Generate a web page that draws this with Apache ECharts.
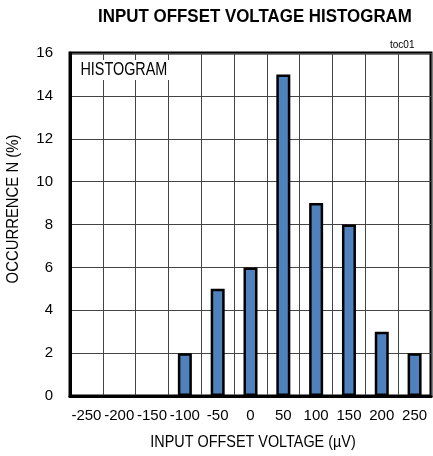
<!DOCTYPE html>
<html>
<head>
<meta charset="utf-8">
<script src="https://cdn.jsdelivr.net/npm/echarts@6/dist/echarts.min.js"></script>
<style>
html,body{margin:0;padding:0;background:#fff;}
#c{width:433px;height:456px;}
</style>
</head>
<body>
<div id="c"></div>
<script>
var categories = ['-250','-200','-150','-100','-50','0','50','100','150','200','250'];
var occurrence = [0,0,0,2,5,6,15,9,8,3,2];
var yTicks = {min:0, max:16, interval:2};
var titleText = 'INPUT OFFSET VOLTAGE HISTOGRAM';
var xName = 'INPUT OFFSET VOLTAGE (µV)';
var yName = 'OCCURRENCE N (%)';

var FONT = "'Liberation Sans',Arial,sans-serif";
var barData = occurrence.map(function(v){
  return v > 0 ? {value:v} : {value:v, itemStyle:{borderWidth:0}};
});
var chart = echarts.init(document.getElementById('c'), null, {renderer:'canvas'});
chart.setOption({
  animation:false,
  backgroundColor:'#fff',
  graphic:[
    {type:'text', x:255, y:17, scaleX:0.89, style:{text:titleText, fontFamily:FONT, fontWeight:'bold', fontSize:19, fill:'#000', align:'center', verticalAlign:'middle', textAlign:'center', textVerticalAlign:'middle'}},
    {type:'text', x:390, y:40, style:{text:'toc01', fontFamily:FONT, fontSize:10, fill:'#000'}},
    {type:'text', x:78, y:70, z:100, scaleX:0.8, style:{text:'HISTOGRAM', fontFamily:FONT, fontSize:18, fill:'#000', backgroundColor:'#fff', padding:[1,3,1,3], verticalAlign:'middle', textVerticalAlign:'middle'}},
    {type:'text', x:253, y:443, scaleX:0.9, style:{text:xName, fontFamily:FONT, fontSize:16, fill:'#000', align:'center', verticalAlign:'middle', textAlign:'center', textVerticalAlign:'middle'}},
    {type:'text', x:14, y:209, rotation:Math.PI/2, scaleX:0.93, style:{text:yName, fontFamily:FONT, fontSize:16, fill:'#000', align:'center', verticalAlign:'middle', textAlign:'center', textVerticalAlign:'middle'}}
  ],
  grid:{left:70, right:2, top:53, bottom:60, show:true, borderColor:'#000', borderWidth:3, backgroundColor:'transparent'},
  xAxis:{
    type:'category', data:categories, boundaryGap:true,
    axisLine:{show:true, lineStyle:{color:'#000', width:3}},
    axisTick:{show:false},
    axisLabel:{fontFamily:FONT, fontSize:15, color:'#000', margin:12, interval:0},
    splitLine:{show:true, interval:0, lineStyle:{color:'#444', width:1}}
  },
  yAxis:{
    type:'value', min:yTicks.min, max:yTicks.max, interval:yTicks.interval,
    axisLine:{show:true, lineStyle:{color:'#000', width:3}},
    axisTick:{show:false},
    axisLabel:{fontFamily:FONT, fontSize:15, color:'#000', margin:17},
    splitLine:{show:true, lineStyle:{color:'#444', width:1}}
  },
  series:[{
    type:'bar', data:barData, barWidth:14,
    itemStyle:{color:'#4f81bd', borderColor:'#000', borderWidth:2.5}
  }]
});
</script>
</body>
</html>
